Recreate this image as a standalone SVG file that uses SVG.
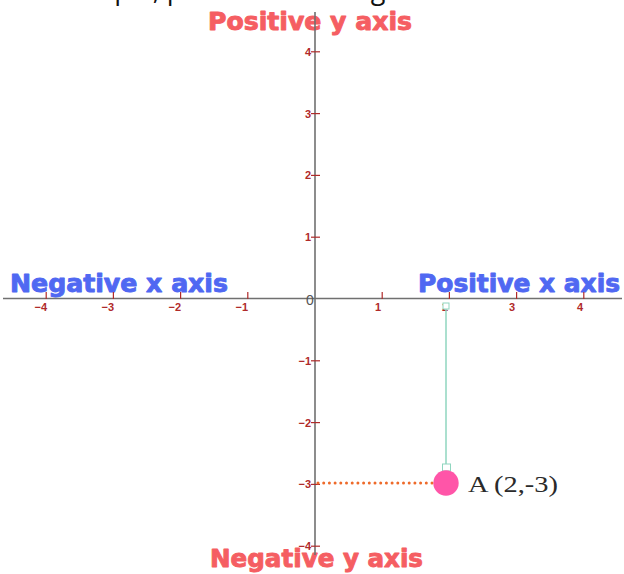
<svg xmlns="http://www.w3.org/2000/svg" width="624" height="574" viewBox="0 0 624 574">
<style>
.title{font-family:"DejaVu Sans",sans-serif;font-weight:bold;font-size:24px;stroke-width:0.9px;stroke-linejoin:round}
.red{fill:#f55e62;stroke:#f55e62}
.blue{fill:#5068f2;stroke:#5068f2}
.tl{font-family:"Liberation Sans",Arial,sans-serif;font-weight:bold;font-size:11px;fill:#b02a2a}
.tick{stroke:#b02a2a;stroke-width:1.2}
.axis{stroke:#707070;stroke-width:1.6}
</style>
<rect width="624" height="574" fill="#ffffff"/>
<text x="45" y="-1" font-family="'Open Sans',sans-serif" font-size="27" fill="#111">example, plot the following</text>
<g id="labels">
<text class="title red" x="208" y="30" textLength="204" lengthAdjust="spacingAndGlyphs">Positive y axis</text>
<text class="title blue" x="10" y="292" textLength="218" lengthAdjust="spacingAndGlyphs">Negative x axis</text>
<text class="title blue" x="418" y="292" textLength="202" lengthAdjust="spacingAndGlyphs">Positive x axis</text>
<text class="title red" x="210" y="567" textLength="213" lengthAdjust="spacingAndGlyphs">Negative y axis</text>
</g>
<g id="axes">
<line class="axis" x1="3" y1="298.5" x2="622" y2="298.5"/>
<line class="axis" x1="315" y1="12" x2="315" y2="555"/>
<text x="310" y="305" text-anchor="middle" font-family="'Liberation Sans',Arial,sans-serif" font-size="14" fill="#555">0</text>
</g>
<g id="xticks">
<line class="tick" x1="46.2" y1="292" x2="46.2" y2="299"/>
<line class="tick" x1="113.4" y1="292" x2="113.4" y2="299"/>
<line class="tick" x1="180.6" y1="292" x2="180.6" y2="299"/>
<line class="tick" x1="247.8" y1="292" x2="247.8" y2="299"/>
<line class="tick" x1="382.2" y1="292" x2="382.2" y2="299"/>
<line class="tick" x1="449.4" y1="292" x2="449.4" y2="299"/>
<line class="tick" x1="516.6" y1="292" x2="516.6" y2="299"/>
<line class="tick" x1="583.8" y1="292" x2="583.8" y2="299"/>
<text class="tl" x="47" y="311" text-anchor="end">−4</text>
<text class="tl" x="114" y="311" text-anchor="end">−3</text>
<text class="tl" x="181" y="311" text-anchor="end">−2</text>
<text class="tl" x="248" y="311" text-anchor="end">−1</text>
<text class="tl" x="381" y="311" text-anchor="end">1</text>
<text class="tl" x="448" y="311" text-anchor="end">2</text>
<text class="tl" x="515" y="311" text-anchor="end">3</text>
<text class="tl" x="583" y="311" text-anchor="end">4</text>
</g>
<g id="yticks">
<line class="tick" x1="311" y1="51.8" x2="320" y2="51.8"/>
<line class="tick" x1="311" y1="113.6" x2="320" y2="113.6"/>
<line class="tick" x1="311" y1="175.4" x2="320" y2="175.4"/>
<line class="tick" x1="311" y1="237.2" x2="320" y2="237.2"/>
<line class="tick" x1="311" y1="360.8" x2="320" y2="360.8"/>
<line class="tick" x1="311" y1="422.6" x2="320" y2="422.6"/>
<line class="tick" x1="311" y1="484.4" x2="320" y2="484.4"/>
<line class="tick" x1="311" y1="546.2" x2="320" y2="546.2"/>
<text class="tl" x="311" y="55.8" text-anchor="end">4</text>
<text class="tl" x="311" y="117.6" text-anchor="end">3</text>
<text class="tl" x="311" y="179.4" text-anchor="end">2</text>
<text class="tl" x="311" y="241.2" text-anchor="end">1</text>
<text class="tl" x="311" y="364.8" text-anchor="end">−1</text>
<text class="tl" x="311" y="426.6" text-anchor="end">−2</text>
<text class="tl" x="311" y="488.4" text-anchor="end">−3</text>
<text class="tl" x="311" y="550.2" text-anchor="end">−4</text>
</g>
<g id="connectors">
<line x1="446" y1="309" x2="446" y2="464" stroke="#8fd6bf" stroke-width="1.5"/>
<rect x="443" y="303" width="6" height="6" fill="#fff" stroke="#8fd6bf" stroke-width="1"/>
<rect x="442.5" y="464" width="8" height="7" fill="#fff" stroke="#8fd6bf" stroke-width="1"/>
<line x1="318" y1="483" x2="433" y2="483" stroke="#ee6a2a" stroke-width="3" stroke-linecap="round" stroke-dasharray="0 5.7"/>
</g>
<g id="pointA">
<circle cx="446" cy="483" r="12.7" fill="#ff55a8"/>
<text x="468" y="492" font-family="'Liberation Serif','Times New Roman',serif" font-size="24" fill="#2a2a2a" textLength="90" lengthAdjust="spacingAndGlyphs">A (2,-3)</text>
</g>
</svg>
